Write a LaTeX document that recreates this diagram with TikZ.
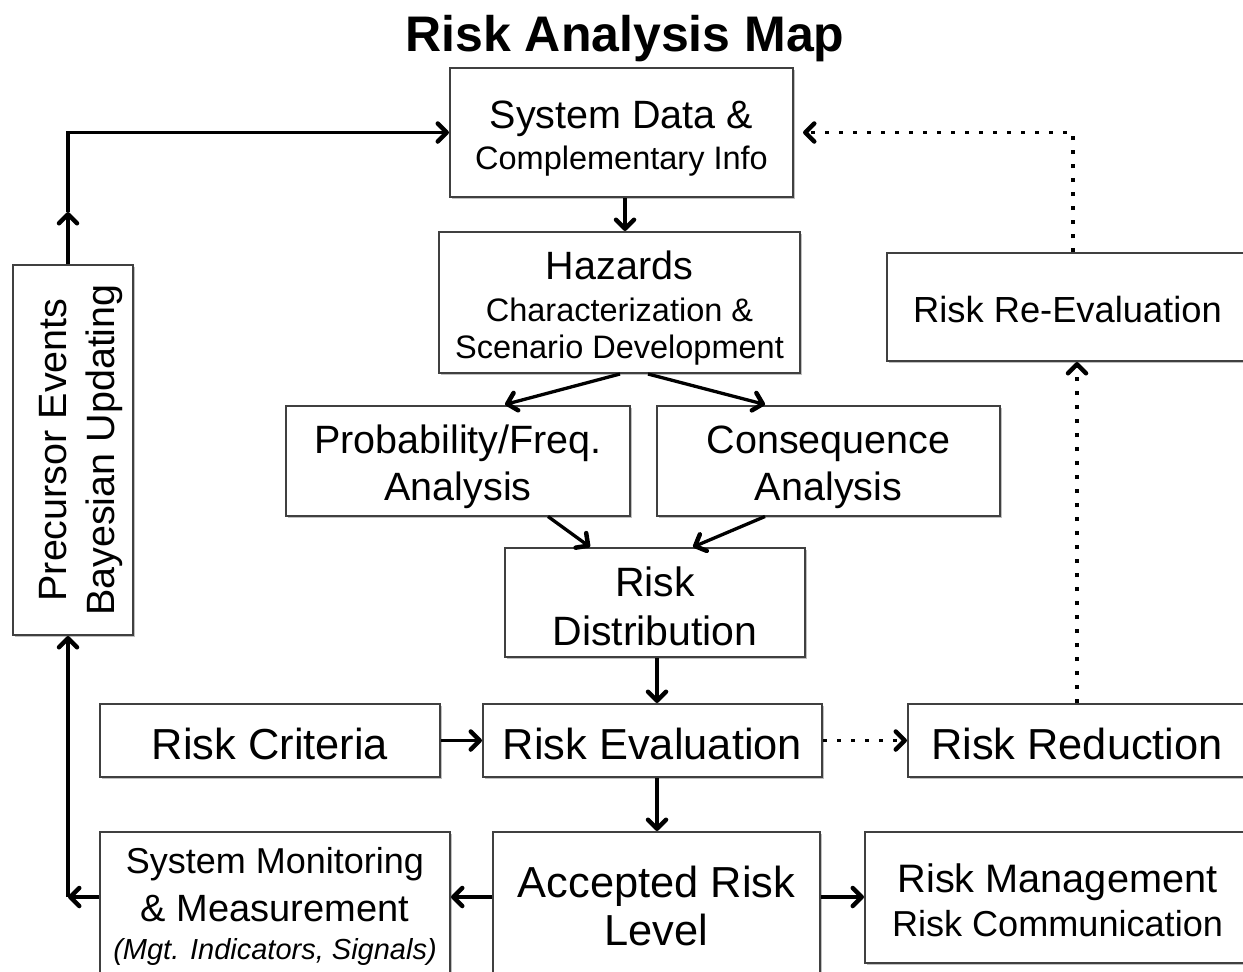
\documentclass[tikz,border=0pt]{standalone}
\usepackage{fontspec}
\setmainfont{Liberation Sans}
\usetikzlibrary{arrows.meta,shadows}
\newcommand\sz[2]{\fontsize{#1}{#2}\selectfont}
\tikzset{
  box/.style={draw=black!75, line width=2pt, fill=white, inner sep=0pt, align=center, text depth=0pt,
    drop shadow={shadow xshift=1.8pt, shadow yshift=-2pt, opacity=0.35, fill=black!70}},
  barb/.tip={Straight Barb[length=9pt,width=18pt,line width=4.5pt,round]},
  arr/.style={line width=3.3pt, -barb},
  dotarr/.style={line width=3.8pt, dash pattern=on 3.8pt off 10.2pt, -barb}
}
\begin{document}
\begin{tikzpicture}[x=1pt,y=-1pt]
\useasboundingbox (0,0) rectangle (1243,972);
\clip (0,0) rectangle (1243,972);
\fill[white] (0,0) rectangle (1243,972);
\node[font=\sz{50}{60}\bfseries, anchor=base] (title) at (625,51) {Risk Analysis Map};

\node[box, minimum width=343, minimum height=129, text height=73.6pt, font=\sz{39.5}{41}] (sys) at (621.5,132.5)
  {System Data \&\\ \sz{32.5}{41}Complementary Info};
\node[box, minimum width=361, minimum height=141, text height=111.6pt, font=\sz{39.5}{41.7}] (haz) at (619.5,302.5)
  {Hazards\\ \sz{32.5}{41.7}Characterization \&\\[-5pt] \sz{32.5}{41.7}Scenario Development};
\node[box, minimum width=361, minimum height=108, text height=31.4pt, font=\sz{36.3}{44}] (reeval) at (1067.5,307)
  {Risk Re-Evaluation};
\node[box, minimum width=344, minimum height=110, text height=80pt, font=\sz{39.5}{46.7}] (prob) at (458,460.5)
  {Probability/Freq.\\Analysis};
\node[box, minimum width=343, minimum height=110, text height=80pt, font=\sz{39.5}{46.7}] (cons) at (828.5,460.5)
  {Consequence\\Analysis};
\node[box, minimum width=300, minimum height=109, text height=86.4pt, font=\sz{41}{49}] (dist) at (655,602.5)
  {Risk\\Distribution};
\node[box, minimum width=340, minimum height=73, text height=37pt, font=\sz{43.4}{50}] (crit) at (270,740.5)
  {Risk Criteria};
\node[box, minimum width=339, minimum height=73, text height=37pt, font=\sz{43.4}{50}] (eval) at (652.5,740.5)
  {Risk Evaluation};
\node[box, minimum width=338, minimum height=73, text height=37pt, font=\sz{43.4}{50}] (red) at (1077,740.5)
  {Risk Reduction};
\node[box, minimum width=350, minimum height=148, text height=106pt, font=\sz{36}{48}] (mon) at (275,906)
  {System Monitoring\\ \sz{38}{48}\& Measurement\\[-10pt] \sz{29}{40}\itshape (Mgt. Indicators, Signals)};
\node[box, minimum width=327, minimum height=146, text height=80pt, font=\sz{43.4}{48}] (acc) at (656.5,905)
  {Accepted Risk\\Level};
\node[box, minimum width=385, minimum height=131, text height=77pt, font=\sz{39.7}{44}] (mgmt) at (1057.5,897.5)
  {Risk Management\\ \sz{36.1}{44}Risk Communication};
\node[box, rotate=90, minimum width=370, minimum height=120, text height=82pt, font=\sz{39.5}{48}] (prec) at (73,450)
  {Precursor Events\\Bayesian Updating};

\coordinate (lx) at (68,0);
\coordinate (rowA) at (0,897);
\coordinate (ax) at (657,0);
\coordinate (sx) at (625,0);

\draw[arr] (sys.south -| sx) -- (haz.north -| sx);
\draw[arr] ([xshift=0.5pt]haz.south) -- ([xshift=47pt]prob.north);
\draw[arr] ([xshift=28.5pt]haz.south) -- ([xshift=-63.5pt]cons.north);
\draw[arr] ([xshift=90pt]prob.south) -- ([xshift=-65pt]dist.north);
\draw[arr] ([xshift=-63.5pt]cons.south) -- ([xshift=38pt]dist.north);
\draw[arr] (dist.south -| ax) -- (eval.north -| ax);
\draw[arr] (crit) -- (eval);
\draw[dotarr] (eval) -- (red);
\draw[dotarr] (red.north) -- (red.north |- reeval.south);
\draw[dotarr] ([xshift=5.5pt]reeval.north) |- ([xshift=9pt]sys.east);
\draw[arr] (eval.south -| ax) -- (acc.north -| ax);
\draw[arr] (acc.west |- rowA) -- (mon.east |- rowA);
\draw[arr] (acc.east |- rowA) -- (mgmt.west |- rowA);
\draw[arr] (mon.west |- rowA) -- (lx |- rowA);
\draw[arr] (lx |- rowA) -- (prec.west -| lx);
\draw[arr] (prec.east -| lx) -- (lx |- 0,212);
\draw[arr] (lx |- 0,212) |- (sys.west);
\end{tikzpicture}
\end{document}
